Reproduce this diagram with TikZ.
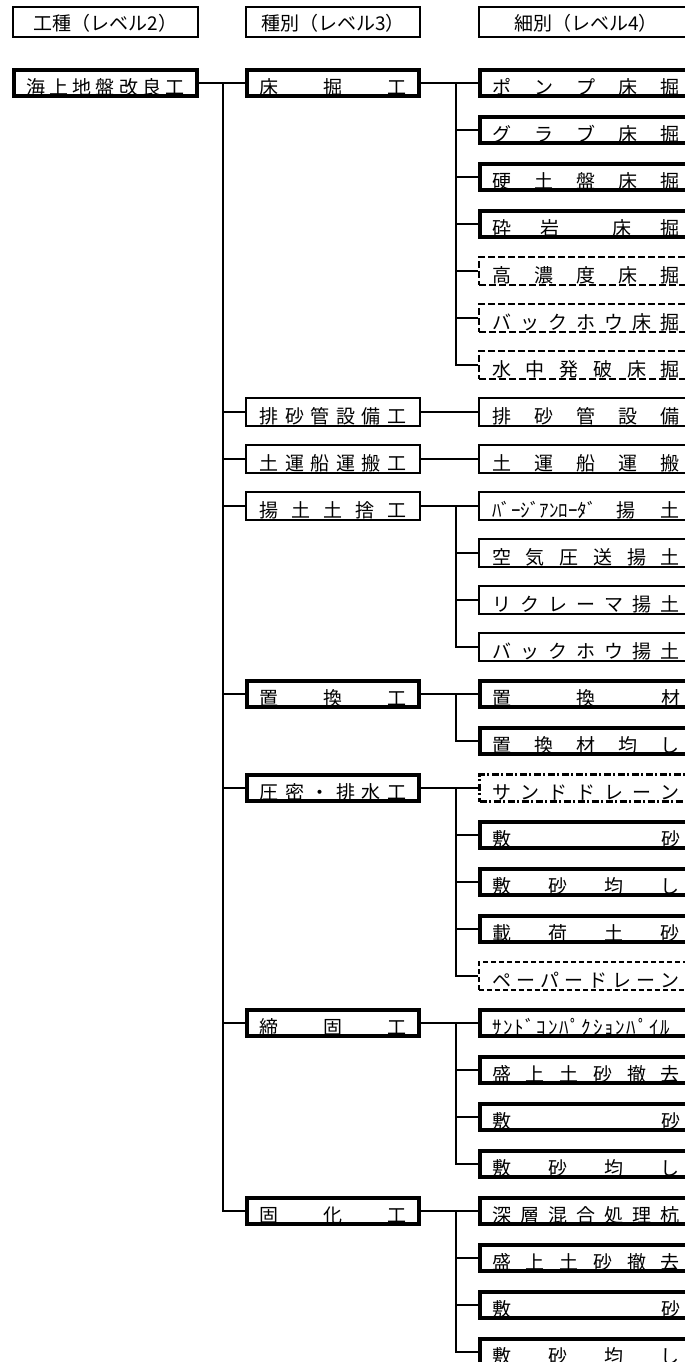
\documentclass[tikz,border=0pt]{standalone}
\usepackage{fontspec}
\setmainfont{Noto Sans CJK JP}
\newcommand\jpbody{\fontsize{19pt}{19pt}\selectfont\spaceskip=0pt plus 1fil\relax}
\newcommand\jphead{\fontsize{19pt}{19pt}\selectfont}
\tikzset{
  bx/.style 2 args={draw, rectangle, inner sep=0pt, line width=#2,
    minimum width=#1-#2, minimum height=30pt-#2,
    text height=23pt, text depth=0pt, font=\jpbody},
  hdr/.style={draw, rectangle, inner sep=0pt, line width=2pt,
    minimum width=#1-2pt, minimum height=30pt,
    text height=17.4pt, text depth=0pt, font=\jphead},
  thk2/.style={bx={187pt}{4pt}},
  thk3/.style={bx={176pt}{4pt}},
  thn3/.style={bx={176pt}{2pt}},
  thk4/.style={bx={216pt}{4pt}},
  thn4/.style={bx={216pt}{2pt}},
  dsh4/.style={bx={216pt}{2pt}, dash pattern=on 7pt off 3pt},
  dd4/.style={bx={216pt}{3pt}, dash pattern=on 7pt off 2.5pt on 2pt off 2.5pt},
  pd4/.style={bx={216pt}{1.8pt}, dash pattern=on 5pt off 3pt},
  conn/.style={draw, line width=2pt}
}
\newcommand\ttt[1]{\makebox[147pt][s]{#1}}
\newcommand\tf[1]{\makebox[188pt][s]{#1}}
\begin{document}
\begin{tikzpicture}[x=1pt,y=-1pt]
\useasboundingbox (0,0) rectangle (685,1362);
\clip (0,0) rectangle (685,1362);
% headers
\node[hdr={187pt}] (h2) at (105.5,22) {工種（レベル2）};
\node[hdr={176pt}] (h3) at (333,22) {種別（レベル3）};
\node[hdr={216pt}] (h4) at (586,22) {細別（レベル4）};
% level 2
\node[thk2] (a) at (105.5,83) {\makebox[158pt][s]{海 上 地 盤 改 良 工}};
% level 3
\node[thk3] (b0) at (333,83) {\ttt{床 掘 工}};
\node[thn3] (b7) at (333,412) {\ttt{排 砂 管 設 備 工}};
\node[thn3] (b8) at (333,459) {\ttt{土 運 船 運 搬 工}};
\node[thn3] (b9) at (333,506) {\ttt{揚 土 土 捨 工}};
\node[thk3] (b13) at (333,694) {\ttt{置 換 工}};
\node[thk3] (b15) at (333,788) {\ttt{圧 密 ・ 排 水 工}};
\node[thk3] (b20) at (333,1023) {\ttt{締 固 工}};
\node[thk3] (b24) at (333,1211) {\ttt{固 化 工}};
% level 4
\node[thk4] (c0) at (586,83) {\tf{ポ ン プ 床 掘}};
\node[thk4] (c1) at (586,130) {\tf{グ ラ ブ 床 掘}};
\node[thk4] (c2) at (586,177) {\tf{硬 土 盤 床 掘}};
\node[thk4] (c3) at (586,224) {\tf{砕 岩\hspace{25pt} 床 掘}};
\node[dsh4] (c4) at (586,271) {\tf{高 濃 度 床 掘}};
\node[dsh4] (c5) at (586,318) {\tf{バ ッ ク ホ ウ 床 掘}};
\node[dsh4] (c6) at (586,365) {\tf{水 中 発 破 床 掘}};
\node[thn4] (c7) at (586,412) {\tf{排 砂 管 設 備}};
\node[thn4] (c8) at (586,459) {\tf{土 運 船 運 搬}};
\node[thn4] (c9) at (586,506) {\tf{\makebox[100pt][s]{ﾊ ﾞ ｰ ｼ ﾞ ｱ ﾝ ﾛ ｰ ﾀ ﾞ} 揚 土}};
\node[thn4] (c10) at (586,553) {\tf{空 気 圧 送 揚 土}};
\node[thn4] (c11) at (586,600) {\tf{リ ク レ ー マ 揚 土}};
\node[thn4] (c12) at (586,647) {\tf{バ ッ ク ホ ウ 揚 土}};
\node[thk4] (c13) at (586,694) {\tf{置 換 材}};
\node[thk4] (c14) at (586,741) {\tf{置 換 材 均 し}};
\node[dd4] (c15) at (586,788) {\tf{サ ン ド ド レ ー ン}};
\node[thk4] (c16) at (586,835) {\tf{敷 砂}};
\node[thk4] (c17) at (586,882) {\tf{敷 砂 均 し}};
\node[thk4] (c18) at (586,929) {\tf{載 荷 土 砂}};
\node[pd4] (c19) at (586,976) {\tf{ペ ー パ ー ド レ ー ン}};
\node[thk4] (c20) at (586,1023) {\tf{\makebox[178pt][s]{ｻ ﾝ ﾄ ﾞ ｺ ﾝ ﾊ ﾟ ｸ ｼ ｮ ﾝ ﾊ ﾟ ｲ ﾙ}\hfill}};
\node[thk4] (c21) at (586,1070) {\tf{盛 上 土 砂 撤 去}};
\node[thk4] (c22) at (586,1117) {\tf{敷 砂}};
\node[thk4] (c23) at (586,1164) {\tf{敷 砂 均 し}};
\node[thk4] (c24) at (586,1211) {\tf{深 層 混 合 処 理 杭}};
\node[thk4] (c25) at (586,1258) {\tf{盛 上 土 砂 撤 去}};
\node[thk4] (c26) at (586,1305) {\tf{敷 砂}};
\node[thk4] (c27) at (586,1352) {\tf{敷 砂 均 し}};
% connectors level 2 -> 3
\draw[conn] (a.east) -- (b0.west);
\coordinate (T) at (223,83);
\foreach \n in {b7,b8,b9,b13,b15,b20,b24} { \draw[conn] (T) |- (\n.west); }
% level 3 -> 4
\draw[conn] (b0.east) -- (c0.west);
\coordinate (G0) at (456,83);
\foreach \n in {c1,c2,c3,c4,c5,c6} { \draw[conn] (G0) |- (\n.west); }
\draw[conn] (b7.east) -- (c7.west);
\draw[conn] (b8.east) -- (c8.west);
\draw[conn] (b9.east) -- (c9.west);
\coordinate (G9) at (456,506);
\foreach \n in {c10,c11,c12} { \draw[conn] (G9) |- (\n.west); }
\draw[conn] (b13.east) -- (c13.west);
\coordinate (G13) at (456,694);
\draw[conn] (G13) |- (c14.west);
\draw[conn] (b15.east) -- (c15.west);
\coordinate (G15) at (456,788);
\foreach \n in {c16,c17,c18,c19} { \draw[conn] (G15) |- (\n.west); }
\draw[conn] (b20.east) -- (c20.west);
\coordinate (G20) at (456,1023);
\foreach \n in {c21,c22,c23} { \draw[conn] (G20) |- (\n.west); }
\draw[conn] (b24.east) -- (c24.west);
\coordinate (G24) at (456,1211);
\foreach \n in {c25,c26,c27} { \draw[conn] (G24) |- (\n.west); }
\end{tikzpicture}
\end{document}
